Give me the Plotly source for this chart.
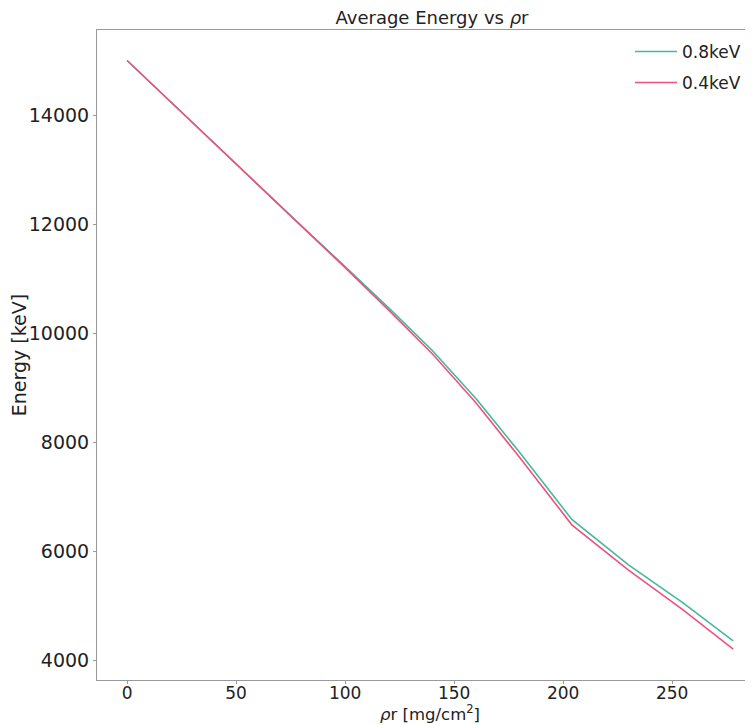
import plotly.graph_objects as go

rho_r = [0, 20, 40, 60, 80, 100, 120, 140, 160, 180, 204, 230, 255, 278]
energy_08 = [15000, 14240, 13480, 12720, 11965, 11220, 10460, 9680, 8800, 7810, 6580, 5745, 5050, 4350]
energy_04 = [15000, 14240, 13480, 12720, 11960, 11200, 10420, 9620, 8720, 7720, 6480, 5650, 4920, 4200]
y_ticks = [4000, 6000, 8000, 10000, 12000, 14000]
x_ticks = [0, 50, 100, 150, 200, 250]

FONT = "DejaVu Sans"
TXT = "#222"
fig = go.Figure()
fig.add_trace(go.Scatter(x=rho_r, y=energy_08, mode="lines", name="0.8keV",
                         line=dict(color="#45b8a0", width=1.6), legend="legend"))
fig.add_trace(go.Scatter(x=rho_r, y=energy_04, mode="lines", name="0.4keV",
                         line=dict(color="#f2507c", width=1.6), legend="legend2"))

# page has an 8px body margin; figure coords = page coords - 8
OFF = 8
W, H = 753 - OFF, 725 - OFF
L, T = 97 - OFF, 30 - OFF
PB = 680 - OFF
B = H - PB
R = 0
pw = W - L - R
ph = PB - T

def px_x(p):
    return (p - OFF - L) / pw

def px_y(p):
    return (PB - (p - OFF)) / ph

leg_common = dict(font=dict(family=FONT, size=17, color=TXT), bgcolor="rgba(0,0,0,0)",
                  xanchor="left", yanchor="middle", x=px_x(630), itemwidth=42)
fig.update_layout(
    width=W, height=H,
    margin=dict(l=L, r=R, t=T, b=B),
    paper_bgcolor="white", plot_bgcolor="white",
    font=dict(family=FONT, size=16, color=TXT),
    title=dict(text="Average Energy vs <i>ρ</i>r", x=px_x(432), xref="paper", xanchor="center",
               y=1 - (18 - OFF) / H, yanchor="middle", font=dict(family=FONT, size=18, color=TXT)),
    legend=dict(y=px_y(52), **leg_common),
    legend2=dict(y=px_y(83), **leg_common),
    showlegend=True,
    annotations=[dict(text="<i>ρ</i>r [mg/cm<sup>2</sup>]", xref="paper", yref="paper",
                      x=px_x(430), y=px_y(713), xanchor="center", yanchor="middle",
                      showarrow=False, font=dict(family=FONT, size=16.5, color=TXT))],
)
fig.update_xaxes(range=[-13.8, 287.1], tickvals=x_ticks, ticktext=[str(v) for v in x_ticks],
                 showgrid=False, zeroline=False, showline=True, linecolor="#999", linewidth=1,
                 mirror=True, ticks="outside", ticklen=3, tickcolor="#999", ticklabelstandoff=-5,
                 tickfont=dict(family=FONT, size=17, color=TXT))
fig.update_yaxes(range=[3633, 15560], tickvals=y_ticks, ticktext=[str(v) for v in y_ticks],
                 showgrid=False, zeroline=False, showline=True, linecolor="#999", linewidth=1,
                 ticks="outside", ticklen=3, tickcolor="#999",
                 tickfont=dict(family=FONT, size=19, color=TXT),
                 title=dict(text="Energy [keV]", standoff=8,
                            font=dict(family=FONT, size=19, color=TXT)))

fig.write_html("out.html")
